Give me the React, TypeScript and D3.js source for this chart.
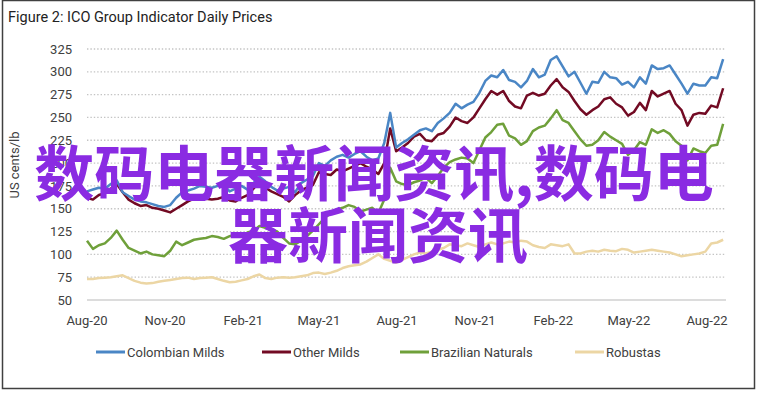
import React from 'react';
import * as d3 from 'd3';

const W = 758;
const H = 393;

const startDate = new Date(2020, 7, 1);

const seriesNames = ['Colombian Milds', 'Other Milds', 'Brazilian Naturals', 'Robustas'];
const seriesColors = ['#4a86c5', '#720a23', '#6fa03a', '#ecd6a4'];

const colombianMilds = [
  169, 171, 173, 172, 177, 181, 168, 164, 160, 158,
  157, 155, 153, 152, 154, 162, 168, 170, 172, 175,
  174, 173, 175, 176, 169, 172, 175, 171, 178, 185,
  180, 174, 170, 172, 174, 168, 178, 182, 186, 200,
  197, 203, 207, 209, 206, 210, 213, 207, 203, 205,
  222, 255, 217, 222, 226, 231, 236, 238, 235, 244,
  249, 255, 265, 260, 264, 267, 277, 290, 296, 294,
  302, 291, 289, 283, 290, 303, 294, 297, 313, 317,
  306, 295, 300, 288, 276, 289, 288, 300, 294, 293,
  286, 289, 283, 294, 287, 307, 303, 304, 307, 297,
  287, 276, 287, 285, 285, 294, 293, 314,
];

const otherMilds = [
  162, 160, 165, 167, 172, 177, 168, 160, 156, 153,
  154, 151, 150, 148, 146, 150, 154, 158, 161, 163,
  161, 160, 161, 163, 159, 158, 162, 165, 172, 180,
  173, 169, 166, 163, 158, 165, 170, 173, 176, 190,
  188, 187, 193, 191, 194, 197, 200, 196, 193, 188,
  200, 238, 213, 217, 222, 229, 232, 225, 224, 231,
  233, 240, 250, 246, 244, 250, 260, 270, 279, 275,
  279, 268, 262, 260, 274, 277, 274, 276, 285, 292,
  283, 278, 268, 259, 253, 258, 262, 270, 272, 265,
  261, 252, 256, 266, 258, 279, 273, 276, 279, 265,
  258, 241, 253, 255, 254, 263, 261, 282,
];

const brazilianNaturals = [
  115, 106, 110, 112, 118, 126, 116, 107, 104, 101,
  103, 100, 99, 98, 104, 114, 110, 113, 116, 117,
  118, 120, 119, 117, 120, 122, 120, 124, 126, 131,
  129, 127, 125, 118, 112, 111, 115, 120, 126, 133,
  140, 145, 149, 151, 154, 152, 147, 149, 151, 145,
  160, 195, 180, 177, 176, 179, 181, 184, 178, 186,
  195, 201, 204, 206, 205, 200, 214, 228, 234, 242,
  243, 230, 227, 220, 224, 235, 239, 241, 249, 258,
  247, 244, 235, 226, 219, 220, 225, 234, 229, 225,
  221, 209, 214, 223, 220, 237, 233, 236, 232, 224,
  219, 203, 216, 213, 211, 219, 220, 243,
];

const robustas = [
  73, 73, 74, 74.5, 75, 76, 77, 74, 71, 69,
  68, 68.5, 70, 71, 72, 73, 74, 74.5, 73, 74,
  74.5, 75, 73, 71, 69.5, 70, 71.5, 73, 76, 78,
  74, 73, 74.5, 75, 74.5, 75, 76, 77, 79.5, 80,
  78.5, 80, 82, 85, 87, 88, 89, 92, 96, 100,
  95, 93, 91, 94, 97, 100, 102, 101, 103, 105,
  107, 111, 110, 109, 112, 110, 108, 111, 113, 111,
  112, 114, 113, 115, 114, 110, 108, 107, 111, 110,
  109, 111, 101, 101, 103, 104, 103, 105, 104, 103.5,
  106, 105, 102, 103, 104, 105, 104, 103, 102, 100,
  98, 99, 100, 101, 103, 112, 113, 116,
];

const yTicks = [50, 75, 100, 125, 150, 175, 200, 225, 250, 275, 300, 325];
const xTickLabels = ['Aug-20', 'Nov-20', 'Feb-21', 'May-21', 'Aug-21', 'Nov-21', 'Feb-22', 'May-22', 'Aug-22'];
const xTickDates = [
  new Date(2020, 7, 1), new Date(2020, 10, 1), new Date(2021, 1, 1), new Date(2021, 4, 1),
  new Date(2021, 7, 1), new Date(2021, 10, 1), new Date(2022, 1, 1), new Date(2022, 4, 1),
  new Date(2022, 7, 1),
];

const titleText = 'Figure 2: ICO Group Indicator Daily Prices';
const yAxisTitle = 'US cents/lb';
const watermarkLines = ['数码电器新闻资讯,数码电', '器新闻资讯'];

const allSeries = [colombianMilds, otherMilds, brazilianNaturals, robustas];

const FONT = 'Roboto, "Liberation Sans", sans-serif';

export default function App() {
  const x = d3.scaleTime().domain([xTickDates[0], xTickDates[xTickDates.length - 1]]).range([87, 707]);
  const y = d3.scaleLinear().domain([50, 325]).range([300, 49]);
  const plotLeft = 87;
  const plotRight = 726;

  const dateOf = (i: number) => d3.timeDay.offset(startDate, i * 7);
  const line = d3
    .line<number>()
    .x((_, i) => x(dateOf(i)))
    .y((d) => y(d))
    .curve(d3.curveLinear);

  const legendX = [96, 262, 400, 575];

  return (
    <svg
      width={W}
      height={H}
      style={{ position: 'absolute', left: 0, top: 0, background: '#fff' }}
      fontFamily={FONT}
    >
      <rect x={0} y={0} width={W} height={H} fill="#fff" />
      <rect x={2.5} y={0.5} width={752} height={388} fill="none" stroke="#404040" strokeWidth={1.5} />
      <text x={8} y={22} fontSize={14.5} fill="#222">{titleText}</text>

      {yTicks.map((t) => (
        <g key={t}>
          <line
            x1={plotLeft}
            x2={plotRight}
            y1={y(t)}
            y2={y(t)}
            stroke={t === 50 ? '#d0d0d0' : '#c4c4c4'}
            strokeWidth={t === 50 ? 1.5 : 1.3}
            strokeDasharray={t === 50 ? undefined : '1.4,2'}
          />
          <text x={72} y={y(t)} dy="0.36em" textAnchor="end" fontSize={13} fill="#404040">
            {t}
          </text>
        </g>
      ))}

      <text
        transform={`translate(19,${165}) rotate(-90)`}
        textAnchor="middle"
        fontSize={13}
        fill="#404040"
      >
        {yAxisTitle}
      </text>

      {xTickDates.map((d, i) => (
        <text key={i} x={x(d)} y={325} textAnchor="middle" fontSize={13} fill="#404040">
          {xTickLabels[i]}
        </text>
      ))}

      {[3, 2, 1, 0].map((si) => (
        <path
          key={si}
          d={line(allSeries[si]) || ''}
          fill="none"
          stroke={seriesColors[si]}
          strokeWidth={2.5}
          strokeLinejoin="round"
        />
      ))}

      {seriesNames.map((n, i) => (
        <g key={n}>
          <line x1={legendX[i]} x2={legendX[i] + 29} y1={352} y2={352} stroke={seriesColors[i]} strokeWidth={3} />
          <text x={legendX[i] + 31} y={352} dy="0.36em" fontSize={13} fill="#404040">
            {n}
          </text>
        </g>
      ))}

      {watermarkLines.map((t, i) => (
        <text
          key={i}
          x={i === 0 ? 374 : 378}
          y={i === 0 ? 196 : 258}
          textAnchor="middle"
          fontSize={60}
          fontWeight={700}
          fontFamily='"Noto Sans CJK SC", sans-serif'
          fill="#8a2be2"
        >
          {t}
        </text>
      ))}
    </svg>
  );
}
